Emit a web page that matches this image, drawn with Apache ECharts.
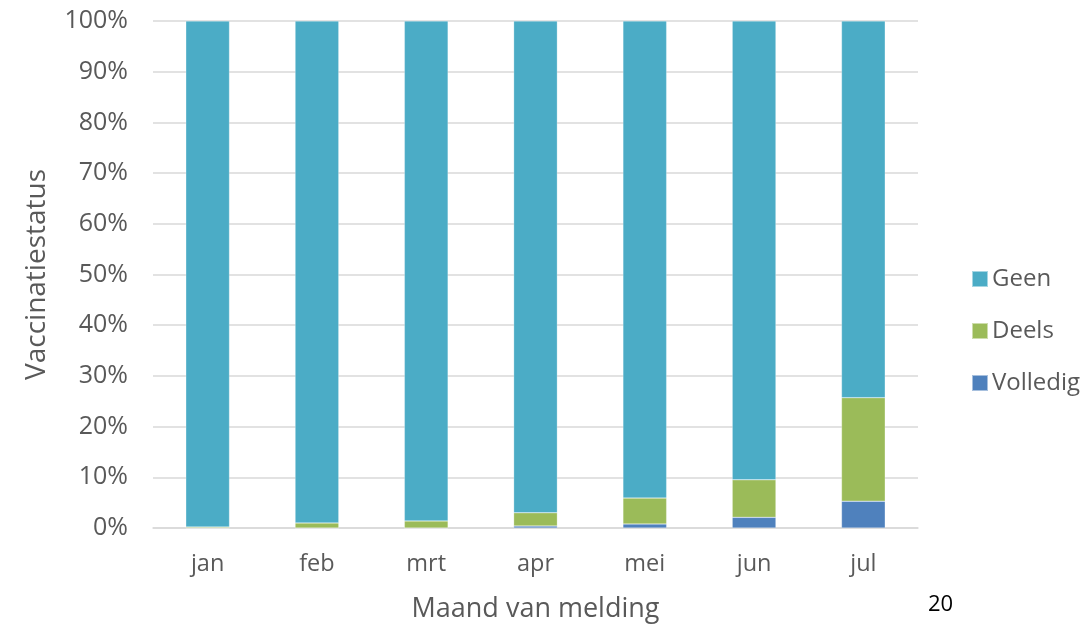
<!DOCTYPE html>
<html>
<head>
<meta charset="utf-8">
<script src="https://cdn.jsdelivr.net/npm/echarts@6/dist/echarts.min.js"></script>
<style>
  html, body { margin: 0; padding: 0; background: #fff; }
  #chart { width: 1091px; height: 628px; }
</style>
</head>
<body>
<div id="chart"></div>
<script>
  // maanden
  var months = ['jan', 'feb', 'mrt', 'apr', 'mei', 'jun', 'jul']
  // percentages per vaccinatiestatus
  var volledig = [0, 0, 0, 0.4, 0.8, 2.1, 5.3]
  var deels = [0.2, 1.0, 1.4, 2.6, 5.1, 7.4, 20.4]
  var geen = [99.8, 99.0, 98.6, 97.0, 94.1, 90.5, 74.3]
  var legendNames = ['Geen', 'Deels', 'Volledig']

  var font = 'Open Sans'
  var chart = echarts.init(document.getElementById('chart'))

  function bar(name, data, color) {
    return {
      name: name,
      type: 'bar',
      stack: 'status',
      barWidth: '40%',
      data: data,
      itemStyle: {color: color, borderColor: 'rgba(255,255,255,0.5)', borderWidth: 0.5},
      emphasis: {disabled: true}
    }
  }

  chart.setOption({
    animation: false,
    grid: {left: 153, right: 173, top: 21, bottom: 98},
    legend: {
      data: legendNames,
      orient: 'vertical',
      left: 966,
      top: 262,
      itemWidth: 16,
      itemHeight: 16,
      itemGap: 28,
      icon: 'rect',
      textStyle: {fontFamily: font, fontSize: 24, color: '#595959', padding: [0, 0, 0, -1]}
    },
    xAxis: {
      type: 'category',
      data: months,
      name: 'Maand van melding',
      nameLocation: 'middle',
      nameGap: 68,
      nameTextStyle: {fontFamily: font, fontSize: 27, color: '#595959'},
      axisLine: {show: true, lineStyle: {color: '#d9d9d9', width: 1.5}},
      axisTick: {show: false},
      axisLabel: {fontFamily: font, fontSize: 23.5, color: '#595959', margin: 24}
    },
    yAxis: {
      type: 'value',
      min: 0,
      max: 100,
      interval: 10,
      name: 'Vaccinatiestatus',
      nameLocation: 'middle',
      nameGap: 102,
      nameTextStyle: {fontFamily: font, fontSize: 28, color: '#595959'},
      axisLine: {show: false},
      axisTick: {show: false},
      splitLine: {lineStyle: {color: '#d9d9d9', width: 1.5}},
      axisLabel: {fontFamily: font, fontSize: 25, color: '#595959', margin: 25, formatter: '{value}%'}
    },
    series: [
      bar('Volledig', volledig, '#4f81bd'),
      bar('Deels', deels, '#9bbb59'),
      bar('Geen', geen, '#4bacc6')
    ],
    graphic: [{
      type: 'text',
      left: 928,
      top: 594,
      style: {text: '20', fontFamily: font, fontSize: 22, fill: '#000'}
    }]
  })
</script>
</body>
</html>
